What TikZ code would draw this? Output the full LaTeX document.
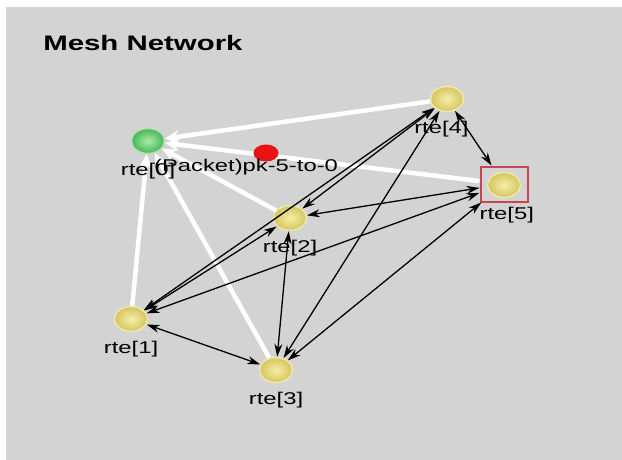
\documentclass[tikz,border=0pt]{standalone}
\usepackage{fontspec}
\setmainfont{Liberation Sans}
\usetikzlibrary{positioning, arrows.meta, shapes.geometric}

\definecolor{panelgray}{RGB}{211,211,211}
\definecolor{nodeyellow}{RGB}{246,238,165}
\definecolor{edgeyellow}{RGB}{212,196,95}
\definecolor{haloyellow}{RGB}{238,232,175}
\definecolor{nodegreen}{RGB}{170,236,170}
\definecolor{edgegreen}{RGB}{70,180,85}
\definecolor{halogreen}{RGB}{175,225,180}
\definecolor{packetred}{RGB}{232,20,20}
\definecolor{framered}{RGB}{200,70,80}

\begin{document}
\begin{tikzpicture}[
    x=1pt, y=-1pt,          % pixel coordinates, y downwards
    >={Stealth[length=13pt,width=8pt]},
    font=\fontsize{17}{20}\selectfont,
    router/.style={ellipse, minimum width=33pt, minimum height=25pt, inner sep=0pt,
        draw=haloyellow, line width=1.5pt, inner color=nodeyellow, outer color=edgeyellow},
    sink/.style={router, draw=halogreen, inner color=nodegreen, outer color=edgegreen},
    rlabel/.style={xscale=1.4, inner sep=0pt},
    wlink/.style={white, line width=4.5pt, <-, >={Stealth[length=14pt,width=13pt]}},
    blink/.style={black, line width=1.3pt, <->}
]

    % --- 1. background panel ---
    \fill[white] (0,0) rectangle (622,460);
    \fill[panelgray] (6,7) rectangle (622,460);
    \useasboundingbox (0,0) rectangle (622,460);

    \node[rlabel, anchor=west, font=\fontsize{21}{24}\selectfont\bfseries] (title) at (43,43) {Mesh Network};

    % --- 2. routers ---
    \node[sink]   (r0) at (148,141) {};
    \node[router] (r4) at (447,99)  {};
    \node[router] (r5) at (504,185) {};
    \node[router] (r2) at (290,218) {};
    \node[router] (r1) at (131,319) {};
    \node[router] (r3) at (276,370) {};

    % selection frame round rte[5]
    \node[draw=framered, line width=2pt, minimum width=47pt, minimum height=35pt, inner sep=0pt] (sel) at (504,184) {};

    % --- 3. routes to rte[0] (white) ---
    \draw[wlink] (r0) -- (r4);
    \draw[wlink] (r0) -- (sel);
    \draw[wlink] (r0) -- (r2);
    \draw[wlink] (r0) -- (r1);
    \draw[wlink] (r0) -- (r3);

    % --- 4. mesh links (black) ---
    \draw[blink] (r1) -- (r2);
    \draw[blink] (r1) -- (r3);
    \draw[blink] (r1) -- (r4);
    \draw[blink] (r1) -- (sel);
    \draw[blink] (r2) -- (r3);
    \draw[blink] (r2) -- (r4);
    \draw[blink] (r2) -- (sel);
    \draw[blink] (r3) -- (r4);
    \draw[blink] (r3) -- (sel);
    \draw[blink] (r4) -- (sel);

    % packet on its way from rte[5] to rte[0]
    \node[ellipse, fill=packetred, minimum width=25pt, minimum height=17pt, inner sep=0pt] (pkt) at (266,153) {};

    % --- 5. labels ---
    \node[rlabel, below=9pt of r0] (l0) {rte[0]};
    \node[rlabel, below=9pt of r4, xshift=-4pt] (l4) {rte[4]};
    \node[rlabel, below=9pt of r5, xshift=2pt] (l5) {rte[5]};
    \node[rlabel, below=9pt of r2] (l2) {rte[2]};
    \node[rlabel, below=9pt of r1] (l1) {rte[1]};
    \node[rlabel, below=9pt of r3] (l3) {rte[3]};
    \node[rlabel] (lpkt) at (246,167) {(Packet)pk-5-to-0};

\end{tikzpicture}
\end{document}
